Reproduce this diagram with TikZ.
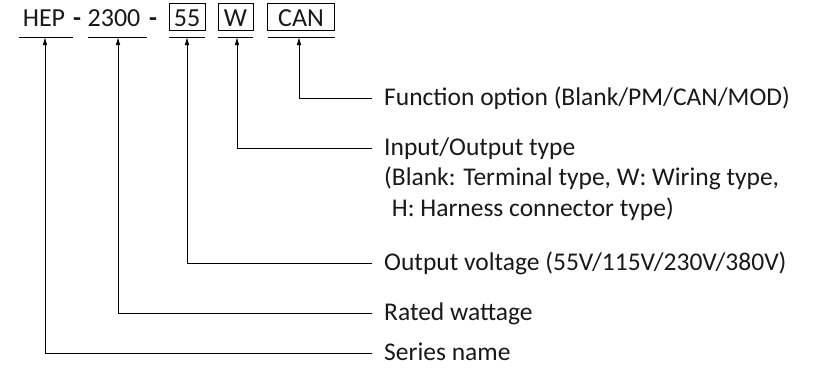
\documentclass[tikz,border=0pt]{standalone}
\usepackage{fontspec}
\setmainfont{Carlito}
\usetikzlibrary{positioning,arrows.meta}

\tikzset{
	code part/.style={font=\fontsize{26}{30}\selectfont, inner xsep=0pt, inner ysep=4.5pt, text height=18pt, text depth=0pt, anchor=base},
	code box/.style={code part, draw, line width=0.8pt},
	item text/.style={font=\fontsize{25.5}{30.5}\selectfont, inner xsep=12pt, inner ysep=0pt, align=left},
	item label/.style={item text, anchor=west, text height=18pt, text depth=4pt},
	lead/.style={line width=0.8pt, -{Latex[length=8pt,width=4.5pt]}}
}

\begin{document}
\begin{tikzpicture}[x=1pt, y=-1pt, text=black!90]
	\useasboundingbox (0,0) rectangle (814,373);
	% model code
	\node[code part] (hep) at (44,26) {HEP};
	\node[code part] (dasha) at (77,26) {\textbf{-}};
	\node[code part] (watt) at (114,26) {2300};
	\node[code part] (dashb) at (153,26) {\textbf{-}};
	\node[code box, minimum width=36pt] (volt) at (187,26) {55};
	\node[code box, minimum width=35pt] (io) at (235.5,26) {W};
	\node[code box, minimum width=67pt] (fn) at (301,26) {CAN};
	% bars under each part
	\foreach \a/\b in {19/73, 88/147, 169/205, 218/253, 268/335}
		\draw[line width=0.8pt] (\a,37) -- (\b,37);
	\coordinate (hepbar) at (45,37);
	\coordinate (wattbar) at (118,37);
	\coordinate (voltbar) at (187,37);
	\coordinate (iobar) at (237,37);
	\coordinate (fnbar) at (299,37);
	% meanings
	\node[item label] (fnlbl) at (372,98) {Function option (Blank/PM/CAN/MOD)};
	\node[item label] (iolbl) at (372,148) {Input/Output type};
	\node[item text, below=61pt of iolbl.base west, anchor=base west] (ionote)
		{(Blank: Terminal type, W: Wiring type,\\\hphantom{(}H: Harness connector type)};
	\node[item label] (voltlbl) at (372,263) {Output voltage (55V/115V/230V/380V)};
	\node[item label] (wattlbl) at (372,313) {Rated wattage};
	\node[item label] (heplbl) at (372,353) {Series name};
	\draw[lead] (fnlbl.west) -| (fnbar);
	\draw[lead] (iolbl.west) -| (iobar);
	\draw[lead] (voltlbl.west) -| (voltbar);
	\draw[lead] (wattlbl.west) -| (wattbar);
	\draw[lead] (heplbl.west) -| (hepbar);
\end{tikzpicture}
\end{document}
